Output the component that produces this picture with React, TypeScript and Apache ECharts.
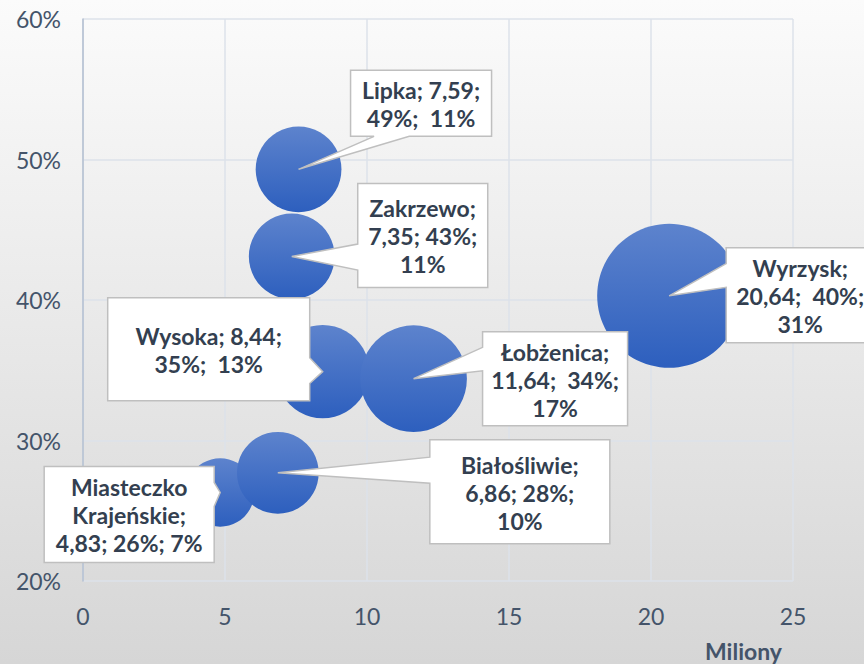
import React, { useEffect, useRef } from "react";
import * as echarts from "echarts";

// ---- data ----
const gminy = ["Miasteczko Krajeńskie", "Białośliwie", "Wysoka", "Łobżenica", "Zakrzewo", "Lipka", "Wyrzysk"];
const budzetMln = [4.83, 6.86, 8.44, 11.64, 7.35, 7.59, 20.64];
const wskaznikPct = [26.3, 27.7, 34.9, 34.4, 43.1, 49.3, 40.3];
const udzialPct = [7, 10, 13, 17, 11, 11, 31];

// axis scale
const X_MIN = 0, X_MAX = 25, X_STEP = 5;
const Y_MIN = 20, Y_MAX = 60, Y_STEP = 10;
const X_NAME = "Miliony";

// ---- callout layout (relative to the bubble centre) ----
type Side = "left" | "right" | "top" | "bottom";
const callouts: { dx: number; dy: number; w: number; h: number; side: Side; f: [number, number]; breaks: number[]; wide: number[]; nameWrap?: boolean }[] = [
  { dx: -176, dy: -26, w: 170, h: 96, side: "right", f: [2 / 12, 5 / 12], breaks: [0], wide: [], nameWrap: true },
  { dx: 152, dy: -33, w: 180, h: 104, side: "left", f: [2 / 12, 5 / 12], breaks: [0, 2], wide: [] },
  { dx: -215, dy: -74, w: 202, h: 103, side: "right", f: [7 / 12, 10 / 12], breaks: [1], wide: [2] },
  { dx: 69, dy: -47, w: 145, h: 94, side: "left", f: [2 / 12, 5 / 12], breaks: [0, 2], wide: [1] },
  { dx: 66, dy: -73, w: 130, h: 104, side: "left", f: [7 / 12, 10 / 12], breaks: [0, 2], wide: [] },
  { dx: 52, dy: -99, w: 141, h: 66, side: "bottom", f: [2 / 12, 5 / 12], breaks: [1], wide: [2] },
  { dx: 57, dy: -48, w: 148, h: 95, side: "left", f: [2 / 12, 5 / 12], breaks: [0, 2], wide: [1] },
];

const MAX_R = 72;
const maxShare = Math.max(...udzialPct);

function labelText(i: number): string {
  const c = callouts[i];
  const name = c.nameWrap ? gminy[i].replace(" ", "\n") : gminy[i];
  const parts = [
    name,
    budzetMln[i].toFixed(2).replace(".", ","),
    Math.round(wskaznikPct[i]) + "%",
    udzialPct[i] + "%",
  ];
  let s = "";
  parts.forEach((p, k) => {
    s += p;
    if (k < parts.length - 1) s += ";" + (c.breaks.includes(k) ? "\n" : c.wide.includes(k) ? "\u00a0 " : " ");
  });
  return s;
}

export default function App() {
  const ref = useRef<HTMLDivElement>(null);
  useEffect(() => {
    if (!ref.current) return;
    const chart = echarts.init(ref.current, null, { renderer: "svg" });
    const data = budzetMln.map((x, i) => [x, wskaznikPct[i], udzialPct[i]]);
    const axisColor = "#44546A";
    chart.setOption({
      animation: false,
      backgroundColor: "transparent",
      textStyle: { fontFamily: "Lato" },
      grid: { left: 83, right: 71, top: 19, bottom: 83 },
      xAxis: {
        type: "value",
        min: X_MIN,
        max: X_MAX,
        interval: X_STEP,
        axisLine: { show: false },
        axisTick: { show: false },
        axisLabel: { color: axisColor, fontSize: 23, margin: 23, fontFamily: "Lato" },
        splitLine: { lineStyle: { color: "#dde2ea", width: 1.5 } },
      },
      yAxis: {
        type: "value",
        min: Y_MIN,
        max: Y_MAX,
        interval: Y_STEP,
        axisLine: { show: true, lineStyle: { color: "#b3bfd0", width: 1.5 } },
        axisTick: { show: false },
        axisLabel: { color: axisColor, fontSize: 23, margin: 22, fontFamily: "Lato", formatter: (v: number) => v + "%" },
        splitLine: { lineStyle: { color: "#dde2ea", width: 1.5 } },
      },
      graphic: [
        {
          type: "text",
          right: 82,
          top: 639,
          style: { text: X_NAME, font: "bold 23px Lato", fill: axisColor },
        },
      ],
      series: [
        {
          type: "scatter",
          z: 2,
          data,
          symbolSize: (v: number[]) => 2 * MAX_R * Math.sqrt(v[2] / maxShare),
          itemStyle: {
            opacity: 1,
            color: {
              type: "linear",
              x: 0, y: 0, x2: 0, y2: 1,
              colorStops: [
                { offset: 0, color: "#5d83cd" },
                { offset: 1, color: "#2d5fbe" },
              ],
            },
          },
          emphasis: { disabled: true },
        },
        {
          type: "custom",
          z: 5,
          clip: false,
          data,
          encode: { x: 0, y: 1 },
          renderItem: (params: any, api: any) => {
            const i = params.dataIndex;
            const c = callouts[i];
            const [px, py] = api.coord([api.value(0), api.value(1)]);
            const L = px + c.dx, T = py + c.dy, R = L + c.w, B = T + c.h;
            const tip = [px, py];
            const pts: number[][] = [[L, T]];
            if (c.side === "top") pts.push([L + c.f[0] * c.w, T], tip, [L + c.f[1] * c.w, T]);
            pts.push([R, T]);
            if (c.side === "right") pts.push([R, T + c.f[0] * c.h], tip, [R, T + c.f[1] * c.h]);
            pts.push([R, B]);
            if (c.side === "bottom") pts.push([L + c.f[1] * c.w, B], tip, [L + c.f[0] * c.w, B]);
            pts.push([L, B]);
            if (c.side === "left") pts.push([L, T + c.f[1] * c.h], tip, [L, T + c.f[0] * c.h]);
            return {
              type: "group",
              children: [
                {
                  type: "polygon",
                  shape: { points: pts },
                  style: { fill: "#ffffff", stroke: "#bfbfbf", lineWidth: 1.5 },
                },
                {
                  type: "text",
                  x: (L + R) / 2,
                  y: (T + B) / 2 + 1,
                  style: {
                    text: labelText(i),
                    align: "center",
                    verticalAlign: "middle",
                    font: "bold 23px Lato",
                    lineHeight: 28,
                    fill: "#333f50",
                  },
                },
              ],
            };
          },
        },
      ],
    });
    return () => chart.dispose();
  }, []);
  return (
    <div
      ref={ref}
      style={{
        position: "fixed",
        left: 0,
        top: 0,
        width: 864,
        height: 664,
        background: "linear-gradient(#fbfbfb, #d6d6d6)",
      }}
    />
  );
}
